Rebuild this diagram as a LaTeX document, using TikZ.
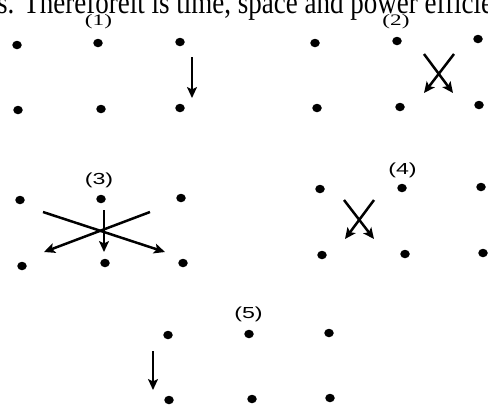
\documentclass[tikz,border=0pt]{standalone}
\usepackage{fontspec}
\setmainfont{Liberation Serif}
\newfontfamily\labelsans{Liberation Sans}
\usetikzlibrary{arrows, arrows.meta, shapes.geometric}

\tikzset{
  dot/.style={ellipse, fill=black, inner sep=0pt, minimum width=9.5pt, minimum height=8.5pt},
  move/.style={-{Stealth[length=11pt, width=10pt, inset=2.5pt]}, line width=2.5pt},
  serlabel/.style={font=\fontsize{16}{18}\selectfont, inner sep=0pt},
  sanslabel/.style={font=\labelsans\fontsize{16}{18}\selectfont, inner sep=0pt}
}
\newcommand{\wide}[1]{\scalebox{1.45}[1]{#1}}

\begin{document}
\begin{tikzpicture}[x=1pt, y=-1pt]
    \clip (0,0) rectangle (488,405);
    % cut-off line of the text above
    \node[anchor=base west, inner sep=0pt, font=\fontsize{27}{31}\selectfont] (txt) at (-3,13) {\scalebox{1}[1.2]{s. Thereforeit is time, space and power efficie}};
    % (1)
    \node[serlabel] (l1) at (98.5,22) {\wide{(1)}};
    \node[dot] (a1) at (17,45) {};
    \node[dot] (a2) at (98,43) {};
    \node[dot] (a3) at (180,42) {};
    \node[dot] (a4) at (18,110) {};
    \node[dot] (a5) at (101,109) {};
    \node[dot] (a6) at (180,108) {};
    \coordinate (p1) at (192,57);
    \coordinate (q1) at (192,98);
    \draw[move] (p1) to (q1);
    % (2)
    \node[serlabel] (l2) at (396,22) {\wide{(2)}};
    \node[dot] (b1) at (315,43) {};
    \node[dot] (b2) at (397,41) {};
    \node[dot] (b3) at (478,39) {};
    \node[dot] (b4) at (317,108) {};
    \node[dot] (b5) at (400,107) {};
    \node[dot] (b6) at (479,105) {};
    \coordinate (p2) at (424,54);
    \coordinate (q2) at (453,93);
    \coordinate (r2) at (454,54);
    \coordinate (s2) at (424,93);
    \draw[move] (p2) to (q2);
    \draw[move] (r2) to (s2);
    % (3)
    \node[sanslabel] (l3) at (99,180.5) {\wide{(3)}};
    \node[dot] (c1) at (20,200) {};
    \node[dot] (c2) at (101,199) {};
    \node[dot] (c3) at (181,198) {};
    \node[dot] (c4) at (22,266) {};
    \node[dot] (c5) at (105,263) {};
    \node[dot] (c6) at (183,263) {};
    \coordinate (p3) at (43,212);
    \coordinate (q3) at (165,252);
    \coordinate (r3) at (150,212);
    \coordinate (s3) at (44,252);
    \coordinate (t3) at (104,210);
    \coordinate (u3) at (104,252);
    \draw[move] (p3) to (q3);
    \draw[move] (r3) to (s3);
    \draw[move] (t3) to (u3);
    % (4)
    \node[sanslabel] (l4) at (402.5,170.5) {\wide{(4)}};
    \node[dot] (d1) at (320,189) {};
    \node[dot] (d2) at (402,188) {};
    \node[dot] (d3) at (481,187) {};
    \node[dot] (d4) at (322,255) {};
    \node[dot] (d5) at (405,254) {};
    \node[dot] (d6) at (483,253) {};
    \coordinate (p4) at (344,200);
    \coordinate (q4) at (374,239);
    \coordinate (r4) at (374,200);
    \coordinate (s4) at (345,239);
    \draw[move] (p4) to (q4);
    \draw[move] (r4) to (s4);
    % (5)
    \node[sanslabel] (l5) at (248.5,314.5) {\wide{(5)}};
    \node[dot] (e1) at (168,335) {};
    \node[dot] (e2) at (249,334) {};
    \node[dot] (e3) at (329,333) {};
    \node[dot] (e4) at (169,400) {};
    \node[dot] (e5) at (252,399) {};
    \node[dot] (e6) at (330,398) {};
    \coordinate (p5) at (153,351);
    \coordinate (q5) at (153,390);
    \draw[move] (p5) to (q5);
\end{tikzpicture}
\end{document}
